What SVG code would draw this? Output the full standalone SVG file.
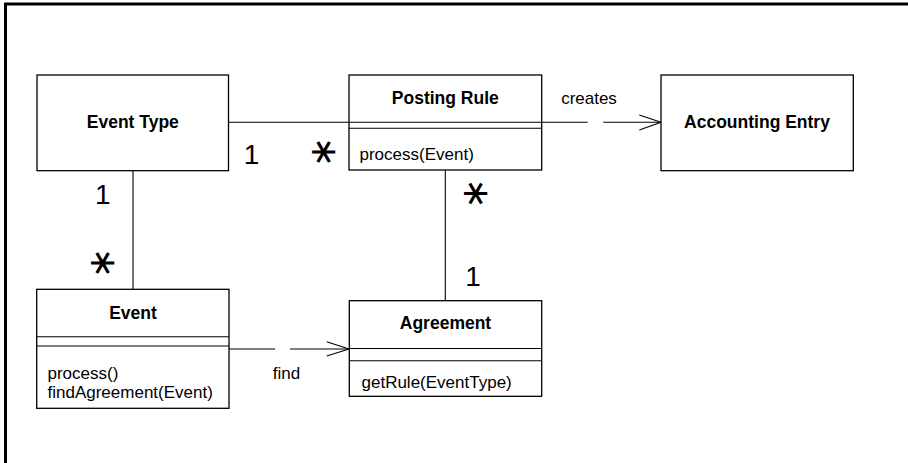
<svg xmlns="http://www.w3.org/2000/svg" width="908" height="463" viewBox="0 0 908 463">
<style>
.box{fill:#fff;stroke:#000;stroke-width:1.3}
.ln{fill:none;stroke:#000;stroke-width:1.1}
.title{font-family:"Liberation Sans",Arial,sans-serif;font-size:17.5px;font-weight:bold;text-anchor:middle;fill:#000}
.op{font-family:"Liberation Sans",Arial,sans-serif;font-size:17px;fill:#000}
.lbl{font-family:"Liberation Sans",Arial,sans-serif;font-size:17px;text-anchor:middle;fill:#000}
.one{font-family:"Liberation Sans",Arial,sans-serif;font-size:28px;text-anchor:middle;fill:#000}
.many{font-family:"DejaVu Sans",sans-serif;font-size:37px;text-anchor:middle;fill:#000}
</style>
<rect width="908" height="463" fill="#fff"/>
<path d="M5.5 463 V4 H908" fill="none" stroke="#000" stroke-width="3"/>

<g id="connectors">
<line class="ln" x1="228.5" y1="122.3" x2="349" y2="122.3"/>
<line class="ln" x1="541.7" y1="122.3" x2="587.7" y2="122.3"/>
<line class="ln" x1="603.3" y1="122.3" x2="661" y2="122.3"/>
<polyline class="ln" points="639.3,115 661,122.3 639.3,130"/>
<text class="lbl" x="589" y="104">creates</text>
<line class="ln" x1="133" y1="171" x2="133" y2="289.3"/>
<line class="ln" x1="445.3" y1="170" x2="445.3" y2="300.7"/>
<line class="ln" x1="229" y1="349" x2="275" y2="349"/>
<line class="ln" x1="290" y1="349" x2="349" y2="349"/>
<polyline class="ln" points="326.7,341.7 349,349 326.7,356"/>
<text class="lbl" x="286.5" y="379">find</text>
<text class="one" x="251.5" y="164">1</text>
<text class="many" x="324" y="163.8" transform="rotate(90 324 152)">∗</text>
<text class="one" x="102.7" y="204">1</text>
<text class="many" x="103" y="274.8" transform="rotate(90 103 263)">∗</text>
<text class="many" x="475.5" y="205.3" transform="rotate(90 475.5 193.5)">∗</text>
<text class="one" x="473" y="286">1</text>
</g>

<g id="event-type">
<rect class="box" x="37" y="75" width="191.5" height="95.7"/>
<text class="title" x="132.8" y="128">Event Type</text>
</g>

<g id="posting-rule">
<rect class="box" x="349" y="75" width="192.7" height="95"/>
<line class="ln" x1="349" y1="128.3" x2="541.7" y2="128.3"/>
<line class="ln" x1="349" y1="122.3" x2="541.7" y2="122.3"/>
<text class="title" x="445.3" y="103.5">Posting Rule</text>
<text class="op" x="359.5" y="159.5">process(Event)</text>
</g>

<g id="accounting-entry">
<rect class="box" x="661" y="75" width="192.3" height="95.7"/>
<text class="title" x="757" y="128.3">Accounting Entry</text>
</g>

<g id="event">
<rect class="box" x="36.7" y="289.3" width="192.3" height="119"/>
<line class="ln" x1="36.7" y1="336.7" x2="229" y2="336.7"/>
<line class="ln" x1="36.7" y1="346" x2="229" y2="346"/>
<text class="title" x="133" y="319.3">Event</text>
<text class="op" x="47.5" y="379">process()</text>
<text class="op" x="47.5" y="398">findAgreement(Event)</text>
</g>

<g id="agreement">
<rect class="box" x="349.3" y="300.7" width="192.4" height="95.6"/>
<line class="ln" x1="349.3" y1="348.5" x2="541.7" y2="348.5"/>
<line class="ln" x1="349.3" y1="360.7" x2="541.7" y2="360.7"/>
<text class="title" x="445.5" y="329.3">Agreement</text>
<text class="op" x="361.5" y="388">getRule(EventType)</text>
</g>
</svg>
